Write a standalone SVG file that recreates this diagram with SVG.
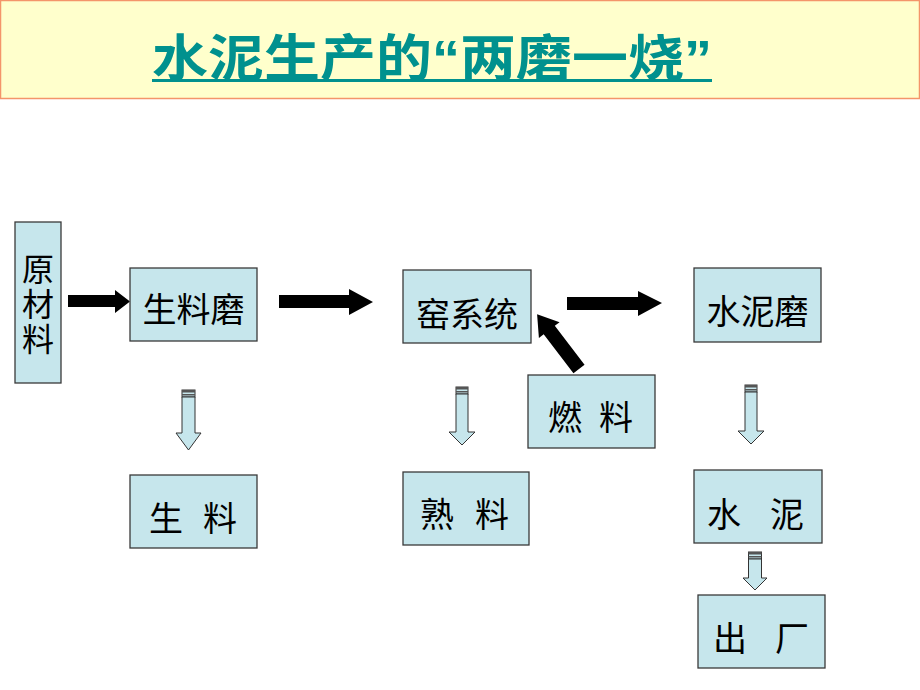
<svg xmlns="http://www.w3.org/2000/svg" width="920" height="690" viewBox="0 0 920 690">
<defs>
<style>
.box{fill:#C6E6EC;stroke:#3a3a3a;stroke-width:1.3}
.t{font-family:"Noto Sans CJK SC","Noto Sans",sans-serif;font-size:34px;fill:#000;text-anchor:middle;dominant-baseline:central}
.v{font-family:"Noto Sans CJK SC","Noto Sans",sans-serif;font-size:32px;fill:#000;writing-mode:vertical-rl;letter-spacing:3px}
.ar{fill:#000}
.dn{fill:#C6E6EC;stroke:#333;stroke-width:1}
.st{fill:#555}
</style>
</defs>
<rect x="0.5" y="0.5" width="919" height="98" fill="#FFFFCC" stroke="#F4956A" stroke-width="1.5"/>
<text transform="translate(152,76) scale(1.12,1)" x="0" y="0" font-family="'Liberation Sans','Noto Sans CJK SC',sans-serif" font-size="50" font-weight="bold" fill="#00918E" textLength="500" lengthAdjust="spacingAndGlyphs">水泥生产的“两磨一烧”</text>
<rect x="152" y="79" width="560" height="3" fill="#00918E"/>

<g id="connectors">
<path class="ar" d="M68,295 H115 V290 L130,301.5 L115,313 V307 H68 Z"/>
<path class="ar" d="M279,295 H349 V289 L373,302 L349,315 V308 H279 Z"/>
<path class="ar" d="M567,297 H638 V291 L662,303 L638,316 V310 H567 Z"/>
<path class="ar" transform="translate(579,369) rotate(232.6)" d="M0,-7 H49 V-13 L69,0 L49,13 V7 H0 Z"/>
<g>
<rect class="dn" x="182" y="390" width="13" height="7"/>
<rect class="st" x="182" y="390" width="13" height="2.5"/>
<rect class="st" x="182" y="394" width="13" height="1.5"/>
<path class="dn" d="M182,397 H195 V433 H201 L188.5,450 L176,433 H182 Z"/>
</g>
<g>
<rect class="dn" x="456" y="387" width="12" height="7"/>
<rect class="st" x="456" y="387" width="12" height="2.5"/>
<rect class="st" x="456" y="391" width="12" height="1.5"/>
<path class="dn" d="M456,394 H468 V432 H475 L462,445 L449,432 H456 Z"/>
</g>
<g>
<rect class="dn" x="745" y="385" width="12" height="7"/>
<rect class="st" x="745" y="385" width="12" height="2.5"/>
<rect class="st" x="745" y="389" width="12" height="1.5"/>
<path class="dn" d="M745,392 H757 V431 H764 L751,444 L738,431 H745 Z"/>
</g>
<g>
<rect class="dn" x="748.5" y="552" width="13" height="7"/>
<rect class="st" x="748.5" y="552" width="13" height="2.5"/>
<rect class="st" x="748.5" y="556" width="13" height="1.5"/>
<path class="dn" d="M748.5,559 H761.5 V578 H767 L755,590 L743,578 H748.5 Z"/>
</g>
</g>

<g id="n-yuancailiao">
<rect class="box" x="15" y="222" width="46" height="161"/>
<text class="v" x="38" y="253">原材料</text>
</g>
<g id="n-shengliaomo">
<rect class="box" x="130" y="268" width="127" height="73"/>
<text class="t" x="193.5" y="307">生料磨</text>
</g>
<g id="n-yaoxitong">
<rect class="box" x="403" y="270" width="128" height="73"/>
<text class="t" x="467" y="312">窑系统</text>
</g>
<g id="n-shuinimo">
<rect class="box" x="694" y="268" width="127" height="74"/>
<text class="t" x="757.5" y="309">水泥磨</text>
</g>
<g id="n-ranliao">
<rect class="box" x="528" y="375" width="127" height="73"/>
<text class="t" x="565" y="415">燃</text>
<text class="t" x="616" y="415">料</text>
</g>
<g id="n-shengliao">
<rect class="box" x="130" y="475" width="127" height="73"/>
<text class="t" x="166" y="516">生</text>
<text class="t" x="220" y="516">料</text>
</g>
<g id="n-shuliao">
<rect class="box" x="403" y="472" width="126" height="73"/>
<text class="t" x="437" y="512">熟</text>
<text class="t" x="492" y="512">料</text>
</g>
<g id="n-shuini">
<rect class="box" x="694" y="470" width="128" height="73"/>
<text class="t" x="724" y="512">水</text>
<text class="t" x="787" y="512">泥</text>
</g>
<g id="n-chuchang">
<rect class="box" x="698" y="595" width="127" height="73"/>
<text class="t" x="730" y="636">出</text>
<text class="t" x="792" y="636">厂</text>
</g>
</svg>
